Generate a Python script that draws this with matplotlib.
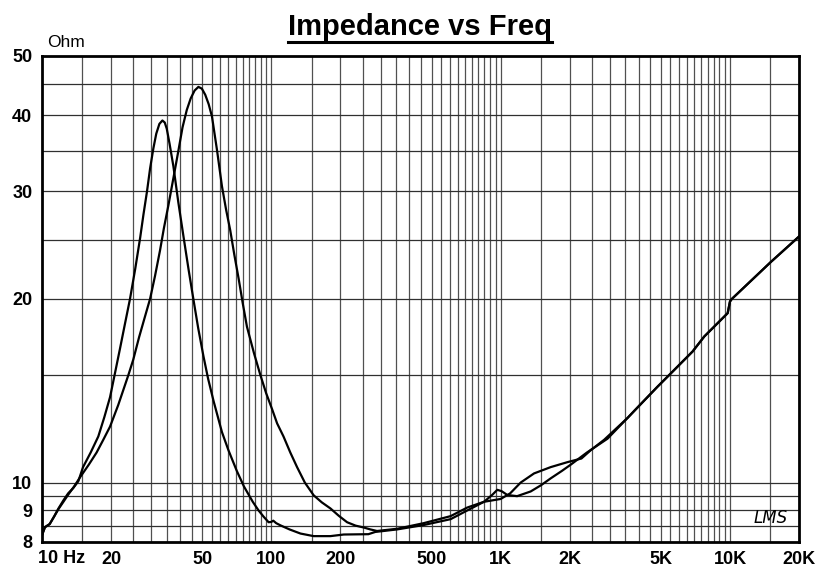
import numpy as np
import matplotlib
matplotlib.use("Agg")
import matplotlib.pyplot as plt
from matplotlib import font_manager
from matplotlib.lines import Line2D

# impedance curve: lower resonance (~33 Hz)
freq_a = [10, 10.3, 10.8, 11.3, 11.8, 12.4, 13.0, 13.7, 14.4, 15.1, 16.3, 17.6,
          18.7, 19.8, 20.8, 21.9, 23.0, 24.2, 25.5, 26.8, 27.7, 28.7, 29.6, 30.6,
          31.5, 32.5, 33.5, 34.3, 35.0, 36.0, 37.4, 39.3, 41.4, 43.6, 45.8, 48,
          50.6, 53, 56, 60.9, 65, 70.7, 76, 83, 88, 92.6, 97.3, 100, 102, 105,
          109.5, 120, 134, 153, 181, 207, 265, 284,
          354, 462, 605, 715, 846, 920, 967, 1010, 1070, 1180, 1352, 1500, 1653,
          1850, 2022, 2378, 2924,
          3575, 3821, 4833, 5524, 6874, 7724, 9772, 10000, 10200, 15100, 20000]
z_a = [8.2, 8.45, 8.55, 8.8, 9.07, 9.35, 9.6, 9.8, 10.05, 10.6, 11.2, 11.9,
       12.8, 13.8, 15.1, 16.6, 18.2, 20.0, 22.4, 25.2, 27.5, 30.0, 32.7, 35.3,
       37.3, 38.7, 39.2, 38.9, 38.0, 35.9, 33.0, 28.8, 25.3, 22.3, 19.9, 17.9,
       16.1, 14.8, 13.6, 12.1, 11.3, 10.45, 9.85, 9.3, 9.0, 8.79, 8.61, 8.62, 8.66, 8.58,
       8.51, 8.38, 8.25, 8.17, 8.17, 8.22, 8.23, 8.30,
       8.38, 8.52, 8.71, 9.0, 9.3, 9.55, 9.73, 9.68, 9.54, 9.5, 9.67, 9.9, 10.16,
       10.45, 10.7, 11.2, 11.8,
       12.76, 13.1, 14.36, 15.1, 16.4, 17.35, 18.95, 19.8, 20.0, 23.0, 25.3]

# higher resonance (~48 Hz)
freq_b = [10, 10.3, 10.8, 11.3, 11.8, 12.4, 13.0, 13.8, 14.65, 16.0, 17.3, 18.5,
          19.8, 21.5, 23.8, 25.0, 26.5, 28.0, 29.6, 31.1, 32.7, 34.0, 35.6, 37.5,
          39.4, 41.0, 42.8, 44.5, 46.3, 48.1, 49.8, 51.5, 53.3, 55.1, 58, 60.9,
          63.5, 66.2, 69, 72.0, 75, 78.3, 84, 89.6, 95, 100.7, 106, 113, 121,
          129.5, 140, 153, 166, 181, 197, 214, 233, 253, 270, 289,
          354, 462, 605, 715, 846, 1000, 1100, 1223, 1398, 1653, 1955, 2250,
          2472, 2826,
          3575, 3821, 4833, 5524, 6874, 7724, 9772, 10000, 10200, 15100, 20000]
z_b = [8.2, 8.45, 8.55, 8.8, 9.05, 9.3, 9.55, 9.85, 10.2, 10.7, 11.2, 11.75,
       12.35, 13.4, 15.0, 15.9, 17.3, 18.6, 20.0, 21.8, 24.0, 26.1, 28.5, 31.7,
       35.1, 38.2, 40.8, 42.6, 43.9, 44.5, 44.2, 43.2, 41.7, 39.8, 35.0, 30.6,
       28.0, 25.9, 23.6, 21.6, 19.7, 18.0, 16.3, 15.0, 14.0, 13.2, 12.5, 11.9, 11.2,
       10.6, 10.0, 9.53, 9.28, 9.07, 8.82, 8.61, 8.5, 8.44, 8.38, 8.33,
       8.40, 8.58, 8.81, 9.1, 9.3, 9.4, 9.6, 10.0, 10.35, 10.6, 10.8, 10.95,
       11.3, 11.75,
       12.76, 13.1, 14.36, 15.1, 16.4, 17.35, 18.95, 19.8, 20.0, 23.0, 25.3]

x_ticks = [20, 50, 100, 200, 500, 1000, 2000, 5000, 10000, 20000]
x_labels = ["20", "50", "100", "200", "500", "1K", "2K", "5K", "10K", "20K"]
y_ticks = [8, 9, 10, 20, 30, 40, 50]
y_grid = [8.5, 9, 9.5, 10, 15, 20, 25, 30, 35, 40, 45]

x_grid = np.concatenate([np.arange(15, 101, 5), np.arange(150, 1001, 50),
                         np.arange(1500, 10001, 500), [15000]])

fig = plt.figure(figsize=(8.33, 5.70), dpi=100)
ax = fig.add_axes([42 / 833, 1 - 541.7 / 570, 757 / 833, 485.7 / 570])
ax.set_xscale("log")
ax.set_yscale("log")
ax.set_xlim(10, 20000)
ax.set_ylim(8, 50)

for g in x_grid:
    ax.axvline(g, color="#505050", lw=0.9, zorder=1)
for g in y_grid:
    ax.axhline(g, color="#303030", lw=0.9, zorder=1)

ax.plot(freq_a, z_a, color="black", lw=1.6, zorder=3)
ax.plot(freq_b, z_b, color="black", lw=1.6, zorder=3)

ax.minorticks_off()
ax.set_xticks(x_ticks)
ax.set_xticklabels(x_labels)
ax.set_yticks(y_ticks)
ax.set_yticklabels([str(v) for v in y_ticks])
ax.tick_params(length=0, labelsize=13, pad=7)
for lab in ax.get_xticklabels() + ax.get_yticklabels():
    lab.set_fontweight("bold")
    lab.set_family("Liberation Sans")
for sp in ax.spines.values():
    sp.set_linewidth(2)
    sp.set_color("black")

ax.annotate("10 Hz", xy=(10, 0), xycoords=("data", "axes fraction"),
            xytext=(-4, -8), textcoords="offset pixels", ha="left", va="top",
            fontsize=13, fontweight="bold", family="Liberation Sans")

ax.text(0.962, 0.03, "LMS", transform=ax.transAxes, ha="center", va="bottom",
        fontsize=12, style="italic", family="DejaVu Sans", fontweight="light")

fig.text(47 / 833, 1 - 47 / 570, "Ohm", ha="left", va="baseline",
         fontsize=12.5, family="Liberation Sans")

names = {f.name for f in font_manager.fontManager.ttflist}
if "Liberation Sans Narrow" in names:
    t = fig.text(0.504, 1 - 35 / 570, "Impedance vs Freq", ha="center",
                 va="baseline", fontsize=25, fontweight="bold",
                 family="Liberation Sans Narrow")
else:
    t = fig.text(0.504, 1 - 35 / 570, "Impedance vs Freq", ha="center",
                 va="baseline", fontsize=21, fontweight="bold",
                 family="Liberation Sans")

fig.canvas.draw()
bb = t.get_window_extent()
uy = 1 - 41.5 / 570
fig.add_artist(Line2D([bb.x0 / 833, bb.x1 / 833], [uy, uy], color="black",
                      lw=2.2, transform=fig.transFigure))

fig.savefig("out.png", dpi=100)
